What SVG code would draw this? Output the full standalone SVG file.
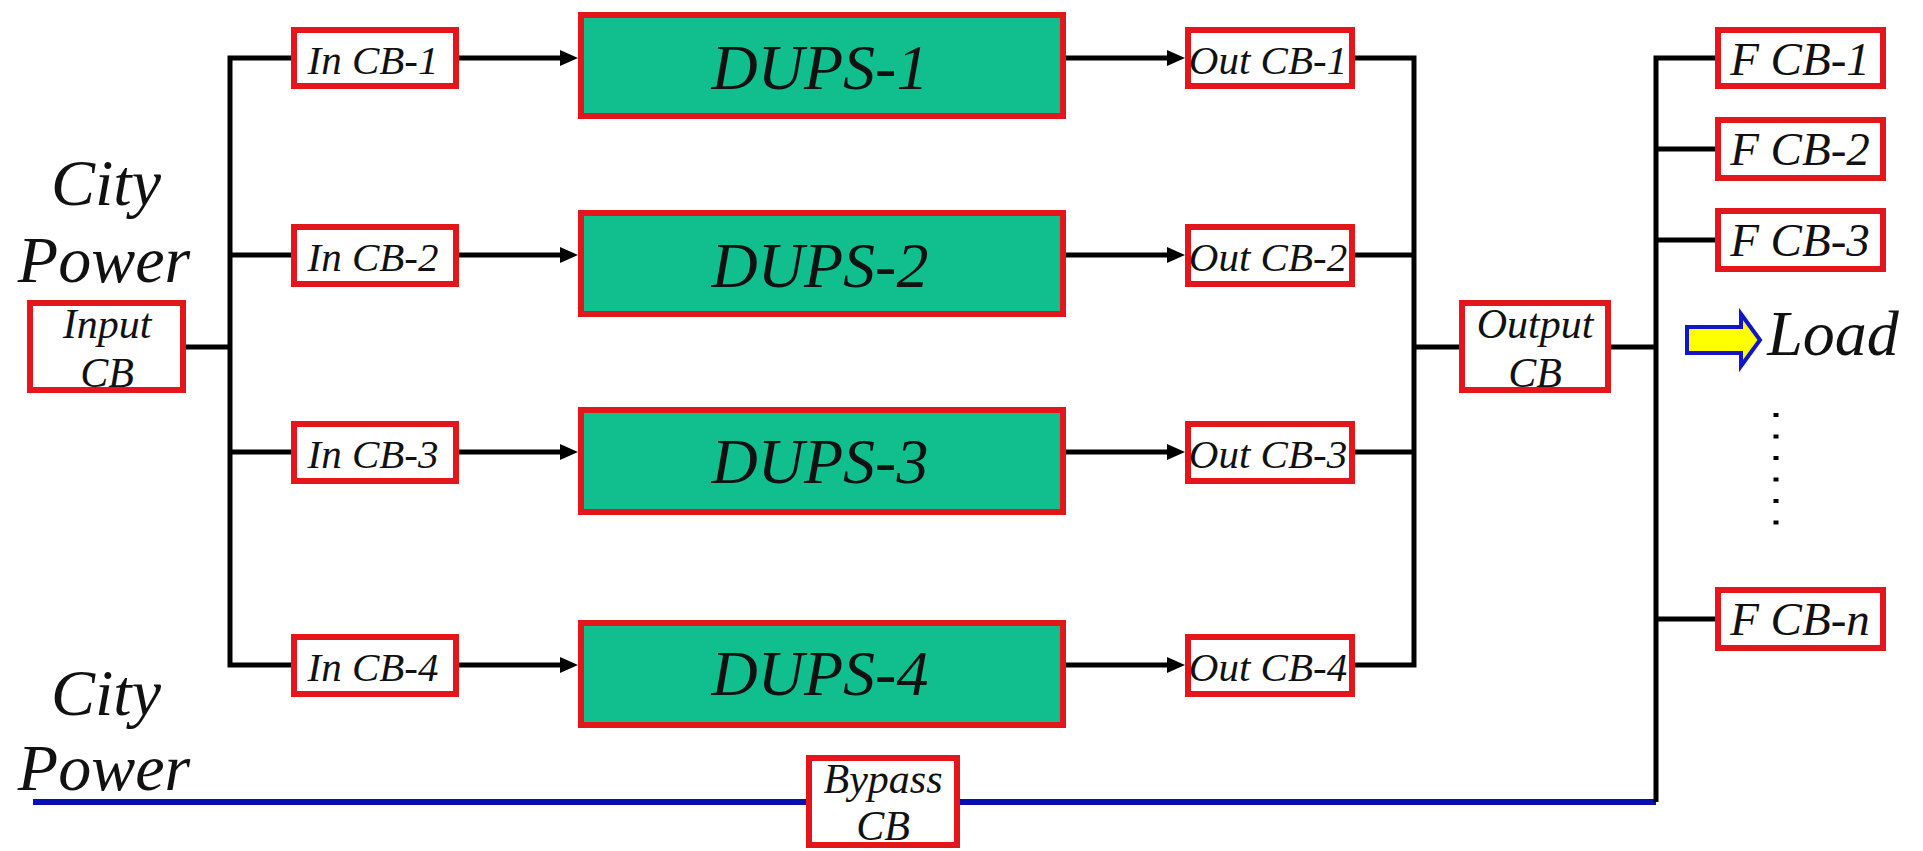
<svg xmlns="http://www.w3.org/2000/svg" width="1923" height="851" viewBox="0 0 1923 851">
<style>
.cb{fill:#fff;stroke:#E3161B;stroke-width:6}
.ups{fill:#10BF8D;stroke:#E3161B;stroke-width:6}
.w{fill:none;stroke:#000;stroke-width:5}
.bl{fill:none;stroke:#0A10B0;stroke-width:6}
.t{font-family:"Liberation Serif",serif;font-style:italic;fill:#111;text-anchor:middle}
.s41{font-size:41px}.s42{font-size:42px}.s47{font-size:47px}.s64{font-size:64px}.s66{font-size:66px}
</style>
<defs>
<marker id="arr" viewBox="0 0 18 16" refX="10" refY="8" markerWidth="18" markerHeight="16" markerUnits="userSpaceOnUse" orient="auto">
<path d="M0,0 L18,8 L0,16 z" fill="#000"/>
</marker>
</defs>
<rect width="1923" height="851" fill="#fff"/>

<g id="connectors">
<path class="bl" d="M33,802 H1656"/>
<path class="w" d="M186,347 H230"/>
<path class="w" d="M291,58 H230 V665 H291 M230,255 H291 M230,452 H291"/>
<path class="w" marker-end="url(#arr)" d="M459,58 H570"/>
<path class="w" marker-end="url(#arr)" d="M459,255 H570"/>
<path class="w" marker-end="url(#arr)" d="M459,452 H570"/>
<path class="w" marker-end="url(#arr)" d="M459,665 H570"/>
<path class="w" marker-end="url(#arr)" d="M1066,58 H1177"/>
<path class="w" marker-end="url(#arr)" d="M1066,255 H1177"/>
<path class="w" marker-end="url(#arr)" d="M1066,452 H1177"/>
<path class="w" marker-end="url(#arr)" d="M1066,665 H1177"/>
<path class="w" d="M1355,58 H1414 V665 H1355 M1355,255 H1414 M1355,452 H1414 M1414,347 H1459"/>
<path class="w" d="M1611,347 H1656 M1715,58 H1656 V802 M1656,149 H1715 M1656,240 H1715 M1656,619 H1715"/>
</g>

<g id="city-power-1">
<text class="t s66" x="106" y="205">City</text>
<text class="t s66" x="104" y="282">Power</text>
</g>
<g id="city-power-2">
<text class="t s66" x="106" y="715">City</text>
<text class="t s66" x="104" y="790">Power</text>
</g>

<g id="input-cb">
<rect class="cb" x="30" y="303" width="153" height="87"/>
<text class="t s42" x="107" y="338">Input</text>
<text class="t s42" x="107" y="387">CB</text>
</g>

<g id="in-cb-1"><rect class="cb" x="294" y="30" width="162" height="56"/><text class="t s41" x="373" y="74">In CB-1</text></g>
<g id="in-cb-2"><rect class="cb" x="294" y="227" width="162" height="57"/><text class="t s41" x="373" y="271">In CB-2</text></g>
<g id="in-cb-3"><rect class="cb" x="294" y="424" width="162" height="57"/><text class="t s41" x="373" y="468">In CB-3</text></g>
<g id="in-cb-4"><rect class="cb" x="294" y="637" width="162" height="57"/><text class="t s41" x="373" y="681">In CB-4</text></g>

<g id="dups-1"><rect class="ups" x="581" y="15" width="482" height="101"/><text class="t s64" x="820" y="89">DUPS-1</text></g>
<g id="dups-2"><rect class="ups" x="581" y="213" width="482" height="101"/><text class="t s64" x="820" y="287">DUPS-2</text></g>
<g id="dups-3"><rect class="ups" x="581" y="410" width="482" height="102"/><text class="t s64" x="820" y="483">DUPS-3</text></g>
<g id="dups-4"><rect class="ups" x="581" y="623" width="482" height="102"/><text class="t s64" x="820" y="695">DUPS-4</text></g>

<g id="out-cb-1"><rect class="cb" x="1188" y="30" width="164" height="56"/><text class="t s41" x="1268" y="74">Out CB-1</text></g>
<g id="out-cb-2"><rect class="cb" x="1188" y="227" width="164" height="57"/><text class="t s41" x="1268" y="271">Out CB-2</text></g>
<g id="out-cb-3"><rect class="cb" x="1188" y="424" width="164" height="57"/><text class="t s41" x="1268" y="468">Out CB-3</text></g>
<g id="out-cb-4"><rect class="cb" x="1188" y="637" width="164" height="57"/><text class="t s41" x="1268" y="681">Out CB-4</text></g>

<g id="output-cb">
<rect class="cb" x="1462" y="303" width="146" height="87"/>
<text class="t s42" x="1535" y="338">Output</text>
<text class="t s42" x="1535" y="387">CB</text>
</g>

<g id="f-cb-1"><rect class="cb" x="1718" y="30" width="165" height="56"/><text class="t s47" x="1800" y="75">F CB-1</text></g>
<g id="f-cb-2"><rect class="cb" x="1718" y="120" width="165" height="58"/><text class="t s47" x="1800" y="165">F CB-2</text></g>
<g id="f-cb-3"><rect class="cb" x="1718" y="211" width="165" height="58"/><text class="t s47" x="1800" y="256">F CB-3</text></g>
<g id="f-cb-n"><rect class="cb" x="1718" y="590" width="165" height="58"/><text class="t s47" x="1800" y="635">F CB-n</text></g>

<g id="load">
<polygon points="1687,327 1741,327 1741,314 1760,340 1741,366 1741,353 1687,353" fill="#FFFF00" stroke="#1414C8" stroke-width="4" stroke-linejoin="miter"/>
<text class="t s64" x="1833" y="355">Load</text>
</g>

<g id="ellipsis">
<line x1="1776" y1="413" x2="1776" y2="526" stroke="#000" stroke-width="5" stroke-dasharray="4 17.5"/>
</g>

<g id="bypass-cb">
<rect class="cb" x="809" y="758" width="148" height="87"/>
<text class="t s42" x="883" y="793">Bypass</text>
<text class="t s42" x="883" y="840">CB</text>
</g>
</svg>
